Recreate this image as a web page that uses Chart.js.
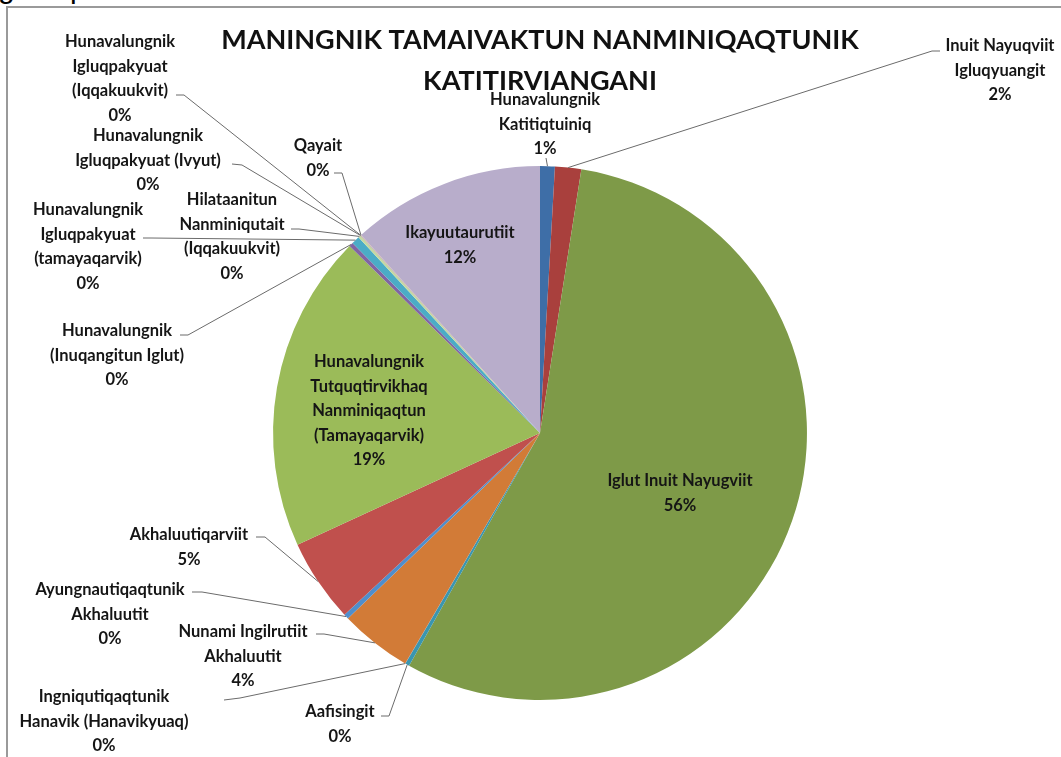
<!DOCTYPE html>
<html lang="iu">
<head>
<meta charset="UTF-8">
<title>Maningnik Tamaivaktun Nanminiqaqtunik Katitirviangani</title>
<style>
    body {
        margin: 0;
        background: #fff;
        font-family: Lato, Arial, sans-serif;
        overflow: hidden;
    }
    #page {
        position: relative;
        width: 1061px;
        height: 757px;
        overflow: hidden;
    }
    .frag {
        position: absolute;
        font-family: "Liberation Sans", Arial, sans-serif;
        font-size: 30px;
        line-height: 30px;
        color: #000;
        top: -27px;
    }
    #frame {
        position: absolute;
        left: 6px;
        top: 6px;
        width: 1200px;
        height: 900px;
        border-left: 2px solid #9a9a9a;
        border-top: 2px solid #9a9a9a;
    }
    #chart {
        position: absolute;
        left: 0;
        top: 0;
    }
</style>
<script src="https://cdn.jsdelivr.net/npm/chart.js"></script>
</head>
<body>
<div id="page">
    <span class="frag" style="left:-2px">g</span>
    <span class="frag" style="left:70px">p</span>
    <div id="frame"></div>
    <canvas id="chart" width="1061" height="757"></canvas>
</div>

<script>
// categories, clockwise from 12 o'clock (line breaks as in the chart)
const categories = [
    ["Hunavalungnik", "Katitiqtuiniq"],
    ["Inuit Nayuqviit", "Igluqyuangit"],
    ["Iglut Inuit Nayugviit"],
    ["Aafisingit"],
    ["Ingniqutiqaqtunik", "Hanavik (Hanavikyuaq)"],
    ["Nunami Ingilrutiit", "Akhaluutit"],
    ["Ayungnautiqaqtunik", "Akhaluutit"],
    ["Akhaluutiqarviit"],
    ["Hunavalungnik", "Tutquqtirvikhaq", "Nanminiqaqtun", "(Tamayaqarvik)"],
    ["Hunavalungnik", "(Inuqangitun Iglut)"],
    ["Hunavalungnik", "Igluqpakyuat", "(tamayaqarvik)"],
    ["Hilataanitun", "Nanminiqutait", "(Iqqakuukvit)"],
    ["Hunavalungnik", "Igluqpakyuat (Ivyut)"],
    ["Hunavalungnik", "Igluqpakyuat", "(Iqqakuukvit)"],
    ["Qayait"],
    ["Ikayuutaurutiit"]
];

// share of each category (%)
const shares = [0.9, 1.6, 56.2, 0.25, 0.02, 4.4, 0.3, 5.1, 19.4, 0.25, 0.5, 0.15, 0.02, 0.02, 0.02, 11.8];

const sliceColors = [
    "#3E6EA7", "#A9403D", "#7E9A48", "#3A96AF", "#4E7FBB", "#D27B37",
    "#4F8ECC", "#C0504D", "#9BBB59", "#8064A2", "#4BACC6", "#C6D9A0",
    "#729ACA", "#CD7371", "#F9AB6B", "#B8ADCB"
];

// where Excel put each data label: centre x, first line y, and the leader start / elbow
const labelPlaces = [
    { x: 545, y: 100, from: [546, 158] },
    { x: 1000, y: 46, from: [940, 51], elbow: [932, 51] },
    { x: 680, y: 481 },
    { x: 340, y: 712, from: [381, 716], elbow: [389, 716] },
    { x: 104, y: 697, from: [224, 700], elbow: [240, 698] },
    { x: 243, y: 632, from: [316, 634], elbow: [324, 634] },
    { x: 110, y: 590, from: [192, 592], elbow: [202, 592] },
    { x: 189, y: 535, from: [256, 537], elbow: [265, 537] },
    { x: 369, y: 362 },
    { x: 117, y: 331, from: [180, 335], elbow: [188, 335] },
    { x: 88, y: 210, from: [143, 238], elbow: [151, 238] },
    { x: 232, y: 200, from: [291, 229], elbow: [299, 229] },
    { x: 148, y: 136, from: [232, 164], elbow: [242, 165] },
    { x: 120, y: 42, from: [176, 95], elbow: [184, 95] },
    { x: 318, y: 146, from: [334, 173], elbow: [342, 173] },
    { x: 460, y: 233 }
];

const total = shares.reduce((a, b) => a + b, 0);

const pieLabels = {
    id: "pieLabels",
    afterDatasetsDraw(chart) {
        const ctx = chart.ctx;
        const arcs = chart.getDatasetMeta(0).data;
        ctx.save();

        // leader lines
        ctx.strokeStyle = "#6b6b6b";
        ctx.lineWidth = 1;
        arcs.forEach((arc, i) => {
            const p = labelPlaces[i];
            if (!p.from) return;
            const a = arc.getProps(["x", "y", "startAngle", "endAngle", "outerRadius"], true);
            const mid = (a.startAngle + a.endAngle) / 2;
            const ax = a.x + Math.cos(mid) * a.outerRadius;
            const ay = a.y + Math.sin(mid) * a.outerRadius;
            ctx.beginPath();
            ctx.moveTo(p.from[0], p.from[1]);
            if (p.elbow) ctx.lineTo(p.elbow[0], p.elbow[1]);
            ctx.lineTo(ax, ay);
            ctx.stroke();
        });

        // label text
        ctx.fillStyle = "#151515";
        ctx.font = "bold 16.5px Lato";
        ctx.textAlign = "center";
        ctx.textBaseline = "middle";
        arcs.forEach((arc, i) => {
            const p = labelPlaces[i];
            const lines = categories[i].concat(Math.round(shares[i] / total * 100) + "%");
            lines.forEach((t, k) => ctx.fillText(t, p.x, p.y + k * 24.5));
        });
        ctx.restore();
    }
};

new Chart(document.getElementById("chart"), {
    type: "pie",
    data: {
        labels: categories.map(c => c.join(" ")),
        datasets: [{
            data: shares,
            backgroundColor: sliceColors,
            borderWidth: 0,
            hoverOffset: 0
        }]
    },
    options: {
        responsive: false,
        animation: false,
        // wide chart area so the title is not squeezed; the pie is sized by the height
        layout: { padding: { left: 100, right: 81, top: 0, bottom: 57 } },
        plugins: {
            legend: { display: false },
            tooltip: { enabled: false },
            title: {
                display: true,
                text: ["MANINGNIK TAMAIVAKTUN NANMINIQAQTUNIK", "KATITIRVIANGANI"],
                color: "#111",
                font: { family: "Lato", size: 27, weight: "bold", lineHeight: 1.52 },
                padding: { top: 20, bottom: 64 }
            }
        }
    },
    plugins: [pieLabels]
});
</script>
</body>
</html>
